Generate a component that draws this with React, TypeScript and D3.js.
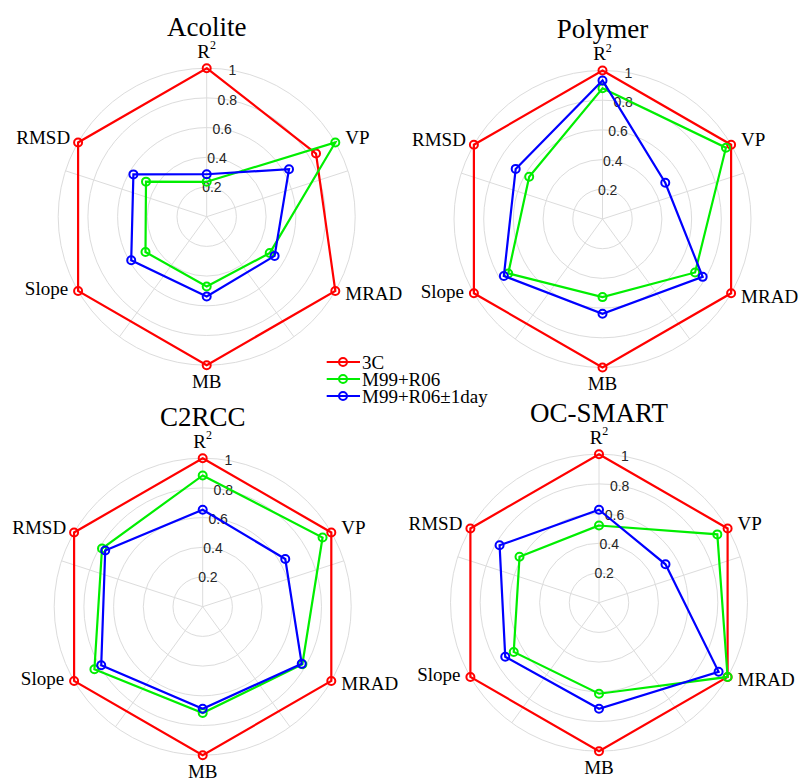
import React from 'react';
import * as d3 from 'd3';

const axesLabels = ['R2', 'VP', 'MRAD', 'MB', 'Slope', 'RMSD'];
const seriesNames = ['3C', 'M99+R06', 'M99+R06±1day'];
const seriesColors = ['#ff0000', '#00ee00', '#0000ff'];
const ringTicks = [0.2, 0.4, 0.6, 0.8, 1];
const ringLabels = ['0.2', '0.4', '0.6', '0.8', '1'];

// values in axis order: R2, VP, MRAD, MB, Slope, RMSD
const acolite3C = [1, 0.85, 1, 1, 1, 1];
const acoliteM99 = [0.235, 1, 0.49, 0.47, 0.476, 0.472];
const acoliteDay = [0.286, 0.64, 0.528, 0.537, 0.587, 0.57];

const polymer3C = [1, 1, 1, 1, 1, 1];
const polymerM99 = [0.88, 0.96, 0.72, 0.526, 0.733, 0.57];
const polymerDay = [0.933, 0.488, 0.779, 0.638, 0.767, 0.675];

const c2rcc3C = [1, 1, 1, 1, 1, 1];
const c2rccM99 = [0.884, 0.932, 0.775, 0.716, 0.842, 0.783];
const c2rccDay = [0.653, 0.642, 0.77, 0.687, 0.789, 0.758];

const ocsmart3C = [1, 1, 1, 1, 1, 1];
const ocsmartM99 = [0.52, 0.92, 1, 0.613, 0.663, 0.618];
const ocsmartDay = [0.626, 0.517, 0.93, 0.714, 0.729, 0.773];

const panels = [
  { title: 'Acolite', cx: 206.7, cy: 216.7, series: [acolite3C, acoliteM99, acoliteDay] },
  { title: 'Polymer', cx: 602.5, cy: 219, series: [polymer3C, polymerM99, polymerDay] },
  { title: 'C2RCC', cx: 202.7, cy: 606.7, series: [c2rcc3C, c2rccM99, c2rccDay] },
  { title: 'OC-SMART', cx: 599, cy: 602.7, series: [ocsmart3C, ocsmartM99, ocsmartDay] },
];

const SERIF = '"Liberation Serif", "Times New Roman", serif';
const SANS = '"Liberation Sans", Arial, sans-serif';
const R = 148.5;

const rScale = d3.scaleLinear().domain([0, 1]).range([0, R]);
const angle = d3.scaleLinear().domain([0, axesLabels.length]).range([0, 2 * Math.PI]);

// label offsets from the unit vertex: [dx, dy, anchor]
const labelOffsets: [number, number, string][] = [
  [0, -17, 'middle'],
  [10, -5, 'start'],
  [10, 3, 'start'],
  [0, 16, 'middle'],
  [-10, -2, 'end'],
  [-8, -5, 'end'],
];

const polar = (a: number, r: number) => [Math.sin(a) * r, -Math.cos(a) * r];

function Radar({ title, cx, cy, series }: any) {
  const line = d3
    .lineRadial<number>()
    .angle((_, i) => angle(i))
    .radius((d) => rScale(d))
    .curve(d3.curveLinearClosed);

  const spokes = d3.range(5).map((i) => (i * 2 * Math.PI) / 5);
  const tickAngle = (10 * Math.PI) / 180;

  return (
    <g transform={`translate(${cx},${cy})`}>
      {ringTicks.map((t) => (
        <circle key={t} r={rScale(t)} fill="none" stroke="#dcdcdc" strokeWidth={1} />
      ))}
      {spokes.map((a, i) => {
        const [x, y] = polar(a, R);
        return <line key={i} x1={0} y1={0} x2={x} y2={y} stroke="#dcdcdc" strokeWidth={1} />;
      })}
      {ringTicks.map((t, i) => {
        const [x, y] = polar(tickAngle, rScale(t));
        return (
          <text key={t} x={x} y={y} textAnchor="middle" dominantBaseline="central"
            fontFamily={SANS} fontSize={14} fill="#262626">
            {ringLabels[i]}
          </text>
        );
      })}
      {series.map((vals: number[], s: number) => (
        <g key={s}>
          <path d={line(vals) || ''} fill="none" stroke={seriesColors[s]} strokeWidth={2.2} />
          {vals.map((v, i) => {
            const [x, y] = polar(angle(i), rScale(v));
            return <circle key={i} cx={x} cy={y} r={4} fill="none" stroke={seriesColors[s]} strokeWidth={2} />;
          })}
        </g>
      ))}
      {axesLabels.map((lab, i) => {
        const [x, y] = polar(angle(i), R);
        const [dx, dy, anchor] = labelOffsets[i];
        return (
          <text key={lab} x={x + dx} y={y + dy} textAnchor={anchor} dominantBaseline="central"
            fontFamily={SERIF} fontSize={19} fill="#000">
            {lab === 'R2' ? (
              <>
                R<tspan fontSize={12} dy={-6}>2</tspan>
              </>
            ) : (
              lab
            )}
          </text>
        );
      })}
      <text x={0} y={-181} textAnchor="middle" fontFamily={SERIF} fontSize={27} fill="#000">
        {title}
      </text>
    </g>
  );
}

function Legend() {
  const y0 = 362;
  const dy = 17;
  return (
    <g>
      {seriesNames.map((name, i) => (
        <g key={name} transform={`translate(0,${y0 + i * dy})`}>
          <line x1={326.7} x2={360} y1={0} y2={0} stroke={seriesColors[i]} strokeWidth={2.2} />
          <circle cx={343} cy={0} r={4} fill="none" stroke={seriesColors[i]} strokeWidth={2} />
          <text x={362} y={0} dominantBaseline="central" fontFamily={SERIF} fontSize={19} fill="#000">
            {name}
          </text>
        </g>
      ))}
    </g>
  );
}

export default function App() {
  return (
    <svg width={800} height={778} style={{ position: 'absolute', left: 0, top: 0, background: '#fff' }}>
      <rect width={800} height={778} fill="#fff" />
      {panels.map((p) => (
        <Radar key={p.title} {...p} />
      ))}
      <Legend />
    </svg>
  );
}
